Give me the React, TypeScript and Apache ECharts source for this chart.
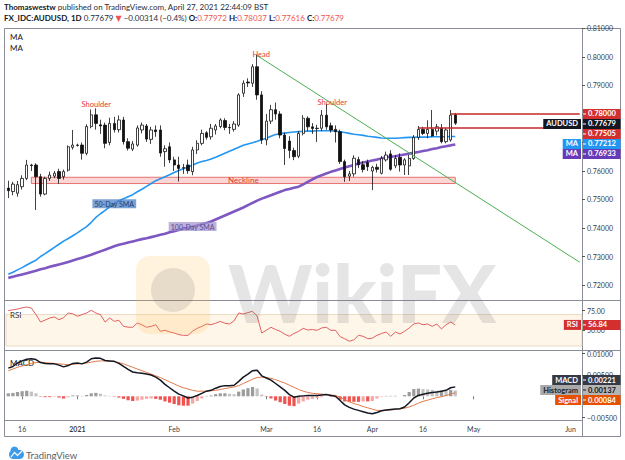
import React, { useEffect, useRef } from "react";
import * as echarts from "echarts";

// ---------------- data (bar slots: -3 .. 121, bars drawn: -3 .. 94) ----------------
const firstSlot = -3;
const lastSlot = 121;

const opens = [
  0.7540, 0.7528, 0.7522, 0.7545, 0.7574, 0.7621, 0.7621, 0.7580, 0.7519, 0.7574,
  0.7582, 0.7598, 0.7580, 0.7603, 0.7683, 0.7691, 0.7691, 0.7662, 0.7756, 0.7797,
  0.7762, 0.7761, 0.7700, 0.7767, 0.7745, 0.7779, 0.7703, 0.7677, 0.7691, 0.7744,
  0.7758, 0.7711, 0.7744, 0.7744, 0.7668, 0.7685, 0.7639, 0.7621, 0.7610, 0.7621,
  0.7598, 0.7674, 0.7697, 0.7734, 0.7720, 0.7744, 0.7756, 0.7777, 0.7753, 0.7746,
  0.7761, 0.7873, 0.7912, 0.7908, 0.7966, 0.7867, 0.7709, 0.7775, 0.7815, 0.7800,
  0.7726, 0.7705, 0.7672, 0.7652, 0.7732, 0.7785, 0.7755, 0.7749, 0.7750, 0.7796,
  0.7759, 0.7746, 0.7738, 0.7633, 0.7582, 0.7590, 0.7640, 0.7622, 0.7630, 0.7600,
  0.7613, 0.7592, 0.7639, 0.7660, 0.7618, 0.7648, 0.7621, 0.7618, 0.7644, 0.7718,
  0.7746, 0.7732, 0.7746, 0.7740, 0.7750, 0.7703, 0.7709, 0.77972,
];
const highs = [
  0.7566, 0.7562, 0.7565, 0.7585, 0.7639, 0.7625, 0.7627, 0.7590, 0.7580, 0.7598,
  0.7600, 0.7608, 0.7605, 0.7690, 0.7744, 0.7696, 0.7700, 0.7764, 0.7816, 0.7820,
  0.7780, 0.7770, 0.7787, 0.7790, 0.7795, 0.7790, 0.7715, 0.7705, 0.7760, 0.7770,
  0.7765, 0.7755, 0.7760, 0.7760, 0.7690, 0.7700, 0.7650, 0.7650, 0.7625, 0.7640,
  0.7685, 0.7708, 0.7745, 0.7740, 0.7765, 0.7765, 0.7785, 0.7785, 0.7765, 0.7775,
  0.7873, 0.7918, 0.7925, 0.7975, 0.8007, 0.7880, 0.7800, 0.7832, 0.7840, 0.7810,
  0.7735, 0.7722, 0.7682, 0.7740, 0.7796, 0.7792, 0.7768, 0.7762, 0.7814, 0.7835,
  0.7770, 0.7760, 0.7745, 0.7640, 0.7600, 0.7655, 0.7650, 0.7635, 0.7640, 0.7618,
  0.7625, 0.7653, 0.7668, 0.7673, 0.7656, 0.7662, 0.7645, 0.7656, 0.7726, 0.7758,
  0.7755, 0.7778, 0.7814, 0.7765, 0.7765, 0.7750, 0.7814, 0.78037,
];
const lows = [
  0.7505, 0.7515, 0.7510, 0.7535, 0.7568, 0.7600, 0.7463, 0.7510, 0.7515, 0.7565,
  0.7575, 0.7555, 0.7570, 0.7598, 0.7675, 0.7686, 0.7640, 0.7655, 0.7750, 0.7745,
  0.7730, 0.7680, 0.7690, 0.7735, 0.7735, 0.7693, 0.7672, 0.7670, 0.7685, 0.7732,
  0.7702, 0.7695, 0.7720, 0.7650, 0.7615, 0.7628, 0.7600, 0.7563, 0.7590, 0.7590,
  0.7585, 0.7660, 0.7690, 0.7710, 0.7710, 0.7728, 0.7750, 0.7743, 0.7730, 0.7738,
  0.7755, 0.7860, 0.7895, 0.7895, 0.7850, 0.7695, 0.7690, 0.7765, 0.7780, 0.7715,
  0.7621, 0.7645, 0.7638, 0.7645, 0.7725, 0.7740, 0.7730, 0.7702, 0.7740, 0.7745,
  0.7735, 0.7700, 0.7625, 0.7562, 0.7565, 0.7580, 0.7610, 0.7595, 0.7600, 0.7533,
  0.7595, 0.7588, 0.7633, 0.7601, 0.7610, 0.7598, 0.7586, 0.7586, 0.7639, 0.7709,
  0.7726, 0.7715, 0.7720, 0.7725, 0.7697, 0.7697, 0.7703, 0.77616,
];
const closes = [
  0.7531, 0.7554, 0.7552, 0.7574, 0.7621, 0.7619, 0.7580, 0.7519, 0.7574, 0.7586,
  0.7592, 0.7574, 0.7598, 0.7685, 0.7691, 0.7690, 0.7662, 0.7756, 0.7797, 0.7767,
  0.7758, 0.7697, 0.7767, 0.7745, 0.7779, 0.7703, 0.7680, 0.7695, 0.7751, 0.7761,
  0.7712, 0.7744, 0.7738, 0.7663, 0.7678, 0.7639, 0.7621, 0.7609, 0.7612, 0.7601,
  0.7674, 0.7697, 0.7732, 0.7718, 0.7750, 0.7758, 0.7779, 0.7753, 0.7752, 0.7765,
  0.7867, 0.7908, 0.7909, 0.7966, 0.7867, 0.7709, 0.7775, 0.7815, 0.7800, 0.7726,
  0.7679, 0.7672, 0.7650, 0.7732, 0.7785, 0.7755, 0.7749, 0.7750, 0.7796, 0.7755,
  0.7744, 0.7738, 0.7633, 0.7580, 0.7590, 0.7645, 0.7622, 0.7605, 0.7615, 0.7613,
  0.7606, 0.7644, 0.7656, 0.7606, 0.7644, 0.7621, 0.7639, 0.7644, 0.7718, 0.7746,
  0.7732, 0.7746, 0.7723, 0.7755, 0.7703, 0.7744, 0.7796, 0.77679,
];

const sma50 = [
  0.7238, 0.7245, 0.7253, 0.7261, 0.7270, 0.7279, 0.7287, 0.7300, 0.7310, 0.7321,
  0.7332, 0.7343, 0.7354, 0.7363, 0.7373, 0.7383, 0.7394, 0.7405, 0.7420, 0.7437,
  0.7450, 0.7462, 0.7474, 0.7485, 0.7496, 0.7503, 0.7510, 0.7517, 0.7527, 0.7536,
  0.7546, 0.7556, 0.7566, 0.7573, 0.7580, 0.7587, 0.7595, 0.7602, 0.7608, 0.7614,
  0.7620, 0.7628, 0.7633, 0.7637, 0.7642, 0.7648, 0.7655, 0.7662, 0.7669, 0.7676,
  0.7683, 0.7690, 0.7695, 0.7699, 0.7704, 0.7710, 0.7715, 0.7722, 0.7728, 0.7731,
  0.7733, 0.7735, 0.7737, 0.7738, 0.7739, 0.7740, 0.7740, 0.7741, 0.7741, 0.7741,
  0.7741, 0.7740, 0.7738, 0.7735, 0.7732, 0.7729, 0.7727, 0.7725, 0.7722, 0.7720,
  0.7718, 0.7716, 0.7715, 0.7715, 0.7715, 0.7716, 0.7717, 0.7718, 0.7718, 0.7719,
  0.7719, 0.7719, 0.7720, 0.7720, 0.7720, 0.7720, 0.7721, 0.77212,
];
const sma100 = [
  0.7225, 0.7229, 0.7233, 0.7237, 0.7241, 0.7246, 0.7250, 0.7255, 0.7259, 0.7264,
  0.7268, 0.7272, 0.7276, 0.7281, 0.7286, 0.7291, 0.7296, 0.7301, 0.7306, 0.7312,
  0.7318, 0.7324, 0.7330, 0.7336, 0.7341, 0.7345, 0.7349, 0.7353, 0.7357, 0.7361,
  0.7364, 0.7368, 0.7372, 0.7376, 0.7380, 0.7385, 0.7389, 0.7393, 0.7397, 0.7401,
  0.7405, 0.7409, 0.7413, 0.7418, 0.7423, 0.7430, 0.7437, 0.7444, 0.7451, 0.7458,
  0.7465, 0.7472, 0.7480, 0.7488, 0.7496, 0.7503, 0.7509, 0.7515, 0.7521, 0.7527,
  0.7533, 0.7537, 0.7541, 0.7545, 0.7553, 0.7562, 0.7571, 0.7579, 0.7585, 0.7591,
  0.7597, 0.7602, 0.7607, 0.7612, 0.7617, 0.7621, 0.7626, 0.7630, 0.7633, 0.7637,
  0.7640, 0.7644, 0.7648, 0.7650, 0.7652, 0.7655, 0.7658, 0.7661, 0.7664, 0.7667,
  0.7670, 0.7673, 0.7677, 0.7680, 0.7684, 0.7687, 0.7690, 0.76933,
];

const rsi = [
  75, 76, 77, 78.5, 79.6, 78.3, 70, 60.5, 63, 65.6,
  66.9, 63.5, 66, 72, 71, 67.8, 70, 72, 75.4, 72,
  69.8, 60.5, 65.6, 61.4, 62.7, 55, 54, 53.8, 59.3, 57,
  53.8, 55, 57.1, 48.7, 50, 48, 46.6, 44.5, 43.6, 43.6,
  49, 52.5, 55, 58, 57.1, 59, 61.4, 59, 58, 62,
  72, 70.7, 72.5, 74.1, 68, 46.6, 50, 53.8, 51, 48.7,
  45, 42.4, 46, 48.7, 52.5, 50.4, 51, 50, 53, 53.8,
  50, 50, 42, 39.3, 36, 38, 43.6, 42.4, 39.3, 40,
  43.6, 46, 47.8, 42.4, 47.8, 45.3, 48.7, 53, 58, 59.3,
  57.1, 58, 55, 58, 51.7, 57.1, 60.5, 56.84,
];

const macd = [
  0.0066, 0.0070, 0.0078, 0.0083, 0.0087, 0.0088, 0.0086, 0.0079, 0.0077, 0.0076,
  0.0076, 0.0073, 0.0069, 0.0072, 0.0077, 0.0078, 0.0076, 0.0080, 0.0088, 0.0090,
  0.0089, 0.0084, 0.0083, 0.0082, 0.0077, 0.0070, 0.0063, 0.0057, 0.0055, 0.0054,
  0.0052, 0.0050, 0.0045, 0.0038, 0.0028, 0.0020, 0.0012, 0.0005, 0.0001, -0.0004,
  -0.0002, 0.0002, 0.0007, 0.0012, 0.0014, 0.0019, 0.0023, 0.0025, 0.0025, 0.0026,
  0.0035, 0.0045, 0.0052, 0.0060, 0.0061, 0.0048, 0.0043, 0.0038, 0.0030, 0.0022,
  0.0014, 0.0004, -0.0002, 0.0000, 0.0001, 0.0002, 0.0002, 0.0002, 0.0003, 0.0004,
  0.0002, 0.0000, -0.0010, -0.0020, -0.0026, -0.0030, -0.0033, -0.0036, -0.0039, -0.0041,
  -0.0038, -0.0034, -0.0032, -0.0031, -0.0030, -0.0029, -0.0025, -0.0015, -0.0004, 0.0002,
  0.0005, 0.0007, 0.0009, 0.0010, 0.0012, 0.0014, 0.0020, 0.00221,
];
const signal = [
  0.0060, 0.0064, 0.0068, 0.0071, 0.0074, 0.0077, 0.0079, 0.0080, 0.0079, 0.0078,
  0.0077, 0.0076, 0.0075, 0.0074, 0.0075, 0.0076, 0.0077, 0.0078, 0.0080, 0.0082,
  0.0083, 0.0083, 0.0082, 0.0081, 0.0079, 0.0076, 0.0072, 0.0068, 0.0064, 0.0060,
  0.0056, 0.0052, 0.0048, 0.0044, 0.0039, 0.0034, 0.0029, 0.0024, 0.0020, 0.0017,
  0.0014, 0.0012, 0.0012, 0.0012, 0.0013, 0.0014, 0.0016, 0.0018, 0.0020, 0.0022,
  0.0025, 0.0030, 0.0035, 0.0040, 0.0044, 0.0045, 0.0044, 0.0042, 0.0039, 0.0035,
  0.0031, 0.0026, 0.0021, 0.0016, 0.0012, 0.0009, 0.0007, 0.0006, 0.0005, 0.0004,
  0.0003, 0.0002, -0.0002, -0.0008, -0.0013, -0.0017, -0.0020, -0.0024, -0.0027, -0.0030,
  -0.0033, -0.0033, -0.0033, -0.0032, -0.0031, -0.0029, -0.0028, -0.0025, -0.0021, -0.0016,
  -0.0012, -0.0009, -0.0006, -0.0003, -0.0001, 0.0002, 0.0005, 0.00084,
];
const histogram = [
  0.0007, 0.0008, 0.0010, 0.0012, 0.0013, 0.0011, 0.0007, -0.0001, -0.0002, -0.0002,
  -0.0001, -0.0003, -0.0005, -0.0002, 0.0002, 0.0002, 0.0001, 0.0003, 0.0007, 0.0008,
  0.0006, 0.0002, 0.0001, -0.0001, -0.0003, -0.0006, -0.0009, -0.0011, -0.0010, -0.0008,
  -0.0006, -0.0005, -0.0006, -0.0008, -0.0012, -0.0015, -0.0018, -0.0021, -0.0022, -0.0022,
  -0.0017, -0.0011, -0.0005, 0.0001, 0.0002, 0.0005, 0.0007, 0.0007, 0.0006, 0.0005,
  0.0011, 0.0016, 0.0019, 0.0022, 0.0018, 0.0004, -0.0001, -0.0005, -0.0010, -0.0014,
  -0.0018, -0.0022, -0.0023, -0.0017, -0.0012, -0.0008, -0.0006, -0.0004, -0.0002, 0.0000,
  -0.0001, -0.0002, -0.0008, -0.0012, -0.0013, -0.0013, -0.0013, -0.0012, -0.0012, -0.0011,
  -0.0005, -0.0001, 0.0001, 0.0001, 0.0001, 0.0000, 0.0003, 0.0010, 0.0017, 0.0018,
  0.0017, 0.0016, 0.0015, 0.0013, 0.0013, 0.0012, 0.0015, 0.00137,
];

const timeTickBars = [0, 12, 33, 53, 64, 76, 87, 98, 119];
const timeTickLabels = ["16", "2021", "Feb", "Mar", "16", "Apr", "16", "May", "Jun"];
const priceTicks = [0.72, 0.73, 0.74, 0.75, 0.76, 0.77, 0.78, 0.79, 0.8, 0.81];
// 0.77000 and 0.78000 sit under the price tags in the reference, so no label is printed there
const priceLabels = [0.72, 0.73, 0.74, 0.75, 0.76, 0.79, 0.8, 0.81];
const rsiTicks = [50, 75];
const macdTicks = [-0.005, 0.005, 0.01];

const resistanceLevels = [0.78, 0.77505];
const resistanceStartBars = [93, 86];
const necklineTop = 0.7578;
const necklineBottom = 0.7556;
const necklineBars = [2, 94];
const trendBars = [51, 121];
const trendValues = [0.8005, 0.728];
const patternBars = [15, 51, 66];
const patternNames = ["Shoulder", "Head", "Shoulder"];
const smaLabelBars = [20, 37];
const smaLabelNames = ["50-Day SMA", "100-Day SMA"];

// ---------------- helpers ----------------
const FONT = "Lato, 'Noto Sans', 'DejaVu Sans', sans-serif";
const slots = Array.from({ length: lastSlot - firstSlot + 1 }, (_, i) => String(firstSlot + i));
const idx = (bar: number) => bar - firstSlot;
const last = closes.length - 1;

const GRID_LEFT = 6;
const GRID_W = 576;

function buildStatic(): any[] {
  const els: any[] = [];
  els.push({
    type: "text",
    x: 4,
    y: 7,
    style: {
      text: "{b|Thomaswestw} published on TradingView.com, April 27, 2021 22:44:09 BST",
      fontFamily: FONT,
      fontSize: 8,
      fill: "#2a2e39",
      verticalAlign: "middle",
      rich: { b: { fontWeight: "bold", fontFamily: FONT, fontSize: 8, fill: "#131722" } },
    },
  });
  els.push({
    type: "text",
    x: 4,
    y: 18,
    style: {
      text:
        "{b|FX_IDC:AUDUSD, 1D} 0.77679 {r|\u25BC} \u22120.00314 (\u22120.4%) {b|O:}{r|0.77972} {b|H:}{r|0.78037} {b|L:}{r|0.77616} {b|C:}{r|0.77679}",
      fontFamily: FONT,
      fontSize: 8,
      fill: "#2a2e39",
      verticalAlign: "middle",
      rich: {
        b: { fontWeight: "bold", fontFamily: FONT, fontSize: 8, fill: "#131722" },
        r: { fontFamily: FONT, fontSize: 8, fill: "#ef5350" },
      },
    },
  });
  const stroke = "#8a8d96";
  els.push({ type: "rect", shape: { x: 4.5, y: 28.5, width: 616, height: 408 }, style: { fill: "none", stroke, lineWidth: 1 } });
  els.push({ type: "line", shape: { x1: 582.5, y1: 28.5, x2: 582.5, y2: 436.5 }, style: { stroke, lineWidth: 1 } });
  els.push({ type: "line", shape: { x1: 4.5, y1: 300.5, x2: 620.5, y2: 300.5 }, style: { stroke, lineWidth: 1 } });
  els.push({ type: "line", shape: { x1: 4.5, y1: 350.5, x2: 620.5, y2: 350.5 }, style: { stroke, lineWidth: 1 } });
  els.push({ type: "line", shape: { x1: 4.5, y1: 420.5, x2: 582.5, y2: 420.5 }, style: { stroke, lineWidth: 1 } });
  const title = (t: string, y: number) => ({
    type: "text",
    x: 10,
    y,
    style: { text: t, fontFamily: FONT, fontSize: 8, fill: "#131722", verticalAlign: "middle" },
  });
  els.push(title("MA", 37));
  els.push(title("MA", 48));
  els.push(title("RSI", 315));
  els.push(title("MACD", 363));
  // watermark
  els.push({
    type: "rect",
    shape: { x: 136, y: 256, width: 74, height: 78, r: 14 },
    style: { fill: "rgba(255, 190, 70, 0.18)" },
    z: 50,
  });
  els.push({ type: "circle", shape: { cx: 173, cy: 290, r: 22 }, style: { fill: "rgba(70,70,70,0.13)" }, z: 50 });
  els.push({
    type: "text",
    x: 228,
    y: 292,
    style: {
      text: "WikiFX",
      fontFamily: "Lato, sans-serif",
      fontWeight: 900,
      fontSize: 80,
      fill: "rgba(110,110,110,0.18)",
      verticalAlign: "middle",
    },
    z: 50,
  });
  // TradingView logo
  els.push({ type: "rect", shape: { x: 9, y: 450, width: 15, height: 9, r: 4.5 }, style: { fill: "#3d9be9" } });
  els.push({ type: "circle", shape: { cx: 14.5, cy: 450.5, r: 4 }, style: { fill: "#3d9be9" } });
  els.push({
    type: "polyline",
    shape: { points: [[11, 457], [14.5, 452.5], [17.5, 455.5], [22, 451]] },
    style: { stroke: "#ffffff", lineWidth: 1.2, fill: "none" },
  });
  els.push({
    type: "text",
    x: 26,
    y: 455,
    style: { text: "TradingView", fontFamily: FONT, fontSize: 9.5, fill: "#5b5f6b", verticalAlign: "middle" },
  });
  return els;
}

type Tag = { v: number; y: number; text: string; bg: string; fg: string; label?: string; labelBg?: string; labelFg?: string };

function stackTags(tags: Tag[], h: number, center: boolean) {
  const s = [...tags].sort((a, b) => a.y - b.y);
  const orig = s.map((t) => t.y);
  for (let i = 1; i < s.length; i++) if (s[i].y < s[i - 1].y + h) s[i].y = s[i - 1].y + h;
  if (center) {
    const m0 = orig.reduce((a, b) => a + b, 0) / orig.length;
    const m1 = s.reduce((a, b) => a + b.y, 0) / s.length;
    s.forEach((t) => (t.y += m0 - m1));
  }
  return s;
}

function tagElements(t: Tag): any[] {
  const els: any[] = [];
  els.push({ type: "rect", shape: { x: 583, y: t.y - 5, width: 37.5, height: 10 }, style: { fill: t.bg }, z: 100 });
  els.push({ type: "line", shape: { x1: 583, y1: t.y, x2: 586, y2: t.y }, style: { stroke: t.fg, lineWidth: 1 }, z: 101 });
  els.push({
    type: "text",
    x: 588,
    y: t.y,
    style: { text: t.text, fontFamily: FONT, fontSize: 7.5, fontWeight: "bold", fill: t.fg, verticalAlign: "middle" },
    z: 101,
  });
  if (t.label) {
    els.push({
      type: "text",
      x: 581,
      y: t.y,
      style: {
        text: t.label,
        fontFamily: FONT,
        fontSize: 7.5,
        fontWeight: "bold",
        fill: t.labelFg || "#fff",
        backgroundColor: t.labelBg || t.bg,
        padding: [1, 3, 1, 3],
        align: "right",
        verticalAlign: "middle",
      },
      z: 101,
    });
  }
  return els;
}

export default function App() {
  const ref = useRef<HTMLDivElement>(null);

  useEffect(() => {
    const el = ref.current!;
    const chart = echarts.init(el, null, { renderer: "svg" });

    const tickSet = new Set(timeTickBars.map((b) => idx(b)));
    const candleData = opens.map((o, i) => [o, closes[i], lows[i], highs[i]]);

    const yAxisBase = (
      gridIndex: number,
      min: number,
      max: number,
      ticks: number[],
      labels: number[],
      fmt: (v: number) => string
    ) => ({
      type: "value",
      gridIndex,
      position: "right",
      min,
      max,
      axisLine: { show: false },
      axisTick: { show: true, length: 3, lineStyle: { color: "#555" }, customValues: ticks },
      axisLabel: {
        show: true,
        customValues: labels,
        formatter: fmt,
        fontSize: 7,
        color: "#3a3d45",
        margin: 5,
        fontFamily: FONT,
      },
      splitLine: { show: false },
    });

    const xAxisBase = (gridIndex: number, showLabels: boolean) => ({
      type: "category",
      gridIndex,
      data: slots,
      boundaryGap: true,
      axisLine: { show: false },
      axisTick: showLabels
        ? { show: true, alignWithLabel: true, interval: (i: number) => tickSet.has(i), length: 3, lineStyle: { color: "#777" } }
        : { show: false },
      axisLabel: showLabels
        ? {
            show: true,
            interval: (i: number) => tickSet.has(i),
            formatter: (v: string) => {
              const k = timeTickBars.indexOf(Number(v));
              if (k < 0) return "";
              const t = timeTickLabels[k];
              return t === "2021" ? "{y|" + t + "}" : t;
            },
            fontSize: 7,
            color: "#3a3d45",
            margin: 5,
            fontFamily: FONT,
            rich: { y: { fontWeight: "bold", fontSize: 7, color: "#3a3d45", fontFamily: FONT } },
          }
        : { show: false },
      splitLine: { show: false },
    });

    const option: any = {
      animation: false,
      backgroundColor: "#ffffff",
      grid: [
        { left: GRID_LEFT, top: 28, width: GRID_W, height: 272 },
        { left: GRID_LEFT, top: 301, width: GRID_W, height: 49 },
        { left: GRID_LEFT, top: 351, width: GRID_W, height: 69 },
      ],
      xAxis: [xAxisBase(0, false), xAxisBase(1, false), xAxisBase(2, true)],
      yAxis: [
        yAxisBase(0, 0.714737, 0.810175, priceTicks, priceLabels, (v) => v.toFixed(5)),
        yAxisBase(1, 24.97, 87.23, rsiTicks, rsiTicks, (v) => v.toFixed(2)),
        yAxisBase(2, -0.005554, 0.010616, macdTicks, macdTicks, (v) =>
          v < 0 ? "\u2212" + Math.abs(v).toFixed(5) : v.toFixed(5)
        ),
      ],
      series: [
        {
          type: "candlestick",
          xAxisIndex: 0,
          yAxisIndex: 0,
          data: candleData,
          barWidth: "62%",
          itemStyle: {
            color: "#ffffff",
            color0: "#111111",
            borderColor: "#111111",
            borderColor0: "#111111",
            borderWidth: 0.8,
          },
          markArea: {
            silent: true,
            itemStyle: { color: "rgba(239,83,80,0.24)", borderColor: "#e57373", borderWidth: 1 },
            label: {
              show: true,
              position: "inside",
              formatter: "Neckline",
              color: "#e53935",
              fontSize: 8,
              fontFamily: FONT,
            },
            data: [
              [
                { xAxis: String(necklineBars[0]), yAxis: necklineTop },
                { xAxis: String(necklineBars[1]), yAxis: necklineBottom },
              ],
            ],
          },
          markLine: {
            silent: true,
            symbol: ["none", "none"],
            label: { show: false },
            data: [
              [
                { coord: [String(trendBars[0]), trendValues[0]], lineStyle: { color: "#4caf50", width: 1, type: "solid" } },
                { coord: [String(trendBars[1]), trendValues[1]] },
              ],
              ...resistanceLevels.map((lv, i) => [
                { coord: [String(resistanceStartBars[i]), lv], lineStyle: { color: "#c62828", width: 1.5, type: "solid" } },
                { coord: [slots[slots.length - 1], lv] },
              ]),
            ],
          },
          markPoint: {
            silent: true,
            symbol: "rect",
            symbolSize: 1,
            itemStyle: { color: "rgba(0,0,0,0)" },
            label: { show: true, position: "inside", color: "#e53935", fontSize: 7.5, fontFamily: FONT },
            data: patternBars.map((b, i) => ({
              coord: [String(b), highs[idx(b)]],
              label: {
                formatter: patternNames[i],
                offset: patternNames[i] === "Head" ? [4, -1] : i === 0 ? [5, -5] : [6, -2],
              },
            })),
          },
          z: 3,
        },
        {
          type: "line",
          name: "MA50",
          xAxisIndex: 0,
          yAxisIndex: 0,
          data: sma50,
          symbol: "none",
          lineStyle: { color: "#2196f3", width: 1.6 },
          markPoint: {
            silent: true,
            symbol: "rect",
            symbolSize: 1,
            itemStyle: { color: "rgba(0,0,0,0)" },
            label: {
              show: true,
              position: "inside",
              formatter: smaLabelNames[0],
              color: "#23406b",
              backgroundColor: "rgba(75,125,195,0.72)",
              padding: [1, 2],
              fontSize: 7,
              fontFamily: FONT,
            },
            data: [{ coord: [String(smaLabelBars[0]), sma50[idx(smaLabelBars[0])]] }],
          },
          z: 2,
        },
        {
          type: "line",
          name: "MA100",
          xAxisIndex: 0,
          yAxisIndex: 0,
          data: sma100,
          symbol: "none",
          lineStyle: { color: "#7e57c2", width: 2.6 },
          markPoint: {
            silent: true,
            symbol: "rect",
            symbolSize: 1,
            itemStyle: { color: "rgba(0,0,0,0)" },
            label: {
              show: true,
              position: "inside",
              formatter: smaLabelNames[1],
              color: "#5a4a92",
              backgroundColor: "rgba(160,145,205,0.7)",
              padding: [1, 2],
              fontSize: 7,
              fontFamily: FONT,
            },
            data: [{ coord: [String(smaLabelBars[1]), sma100[idx(smaLabelBars[1])]] }],
          },
          z: 2,
        },
        {
          type: "line",
          name: "RSI",
          xAxisIndex: 1,
          yAxisIndex: 1,
          data: rsi,
          symbol: "none",
          lineStyle: { color: "#e0605e", width: 1 },
          markArea: {
            silent: true,
            itemStyle: { color: "rgba(255,170,60,0.11)", borderColor: "rgba(220,200,170,0.8)", borderWidth: 0.8 },
            data: [[{ yAxis: 70 }, { yAxis: 30 }]],
          },
        },
        {
          type: "bar",
          name: "Histogram",
          xAxisIndex: 2,
          yAxisIndex: 2,
          data: histogram,
          barWidth: "70%",
          itemStyle: {
            color: (p: any) => {
              const i = p.dataIndex;
              const v = histogram[i];
              const prev = i > 0 ? histogram[i - 1] : v;
              if (v >= 0) return v >= prev ? "#9b9b9b" : "#c2c2c2";
              return v <= prev ? "#ef5350" : "#f6a6a4";
            },
          },
        },
        {
          type: "line",
          name: "MACD",
          xAxisIndex: 2,
          yAxisIndex: 2,
          data: macd,
          symbol: "none",
          lineStyle: { color: "#131722", width: 1.5 },
          z: 4,
        },
        {
          type: "line",
          name: "Signal",
          xAxisIndex: 2,
          yAxisIndex: 2,
          data: signal,
          symbol: "none",
          lineStyle: { color: "#e07a4a", width: 1 },
          z: 3,
        },
      ],
      graphic: [{ elements: buildStatic() }],
    };

    chart.setOption(option);

    const py = (axis: number, v: number) => chart.convertToPixel({ yAxisIndex: axis }, v) as number;

    const mainTags: Tag[] = [
      { v: resistanceLevels[0], y: 0, text: resistanceLevels[0].toFixed(5), bg: "#d32f2f", fg: "#fff" },
      { v: closes[last], y: 0, text: closes[last].toFixed(5), bg: "#131722", fg: "#fff", label: "AUDUSD" },
      { v: resistanceLevels[1], y: 0, text: resistanceLevels[1].toFixed(5), bg: "#d32f2f", fg: "#fff" },
      { v: sma50[last], y: 0, text: sma50[last].toFixed(5), bg: "#2196f3", fg: "#fff", label: "MA" },
      { v: sma100[last], y: 0, text: sma100[last].toFixed(5), bg: "#673ab7", fg: "#fff", label: "MA" },
    ];
    mainTags.forEach((t) => (t.y = py(0, t.v)));
    const rsiTags: Tag[] = [{ v: rsi[last], y: 0, text: rsi[last].toFixed(2), bg: "#d32f2f", fg: "#fff", label: "RSI" }];
    rsiTags.forEach((t) => (t.y = py(1, t.v)));
    const macdTags: Tag[] = [
      { v: macd[last], y: 0, text: macd[last].toFixed(5), bg: "#363a45", fg: "#fff", label: "MACD" },
      {
        v: histogram[last],
        y: 0,
        text: histogram[last].toFixed(5),
        bg: "#b5b5b5",
        fg: "#131722",
        label: "Histogram",
        labelBg: "#a9a9a9",
        labelFg: "#1d1f26",
      },
      { v: signal[last], y: 0, text: signal[last].toFixed(5), bg: "#e65100", fg: "#fff", label: "Signal" },
    ];
    macdTags.forEach((t) => (t.y = py(2, t.v)));

    const tagEls: any[] = [];
    stackTags(mainTags, 10, false).forEach((t) => tagEls.push(...tagElements(t)));
    rsiTags.forEach((t) => tagEls.push(...tagElements(t)));
    stackTags(macdTags, 10, true).forEach((t) => tagEls.push(...tagElements(t)));

    chart.setOption({ graphic: [{ elements: [...buildStatic(), ...tagEls] }] }, { replaceMerge: ["graphic"] });

    return () => chart.dispose();
  }, []);

  return (
    <div
      ref={ref}
      style={{ position: "absolute", left: 0, top: 0, width: 625, height: 460, background: "#ffffff" }}
    />
  );
}
